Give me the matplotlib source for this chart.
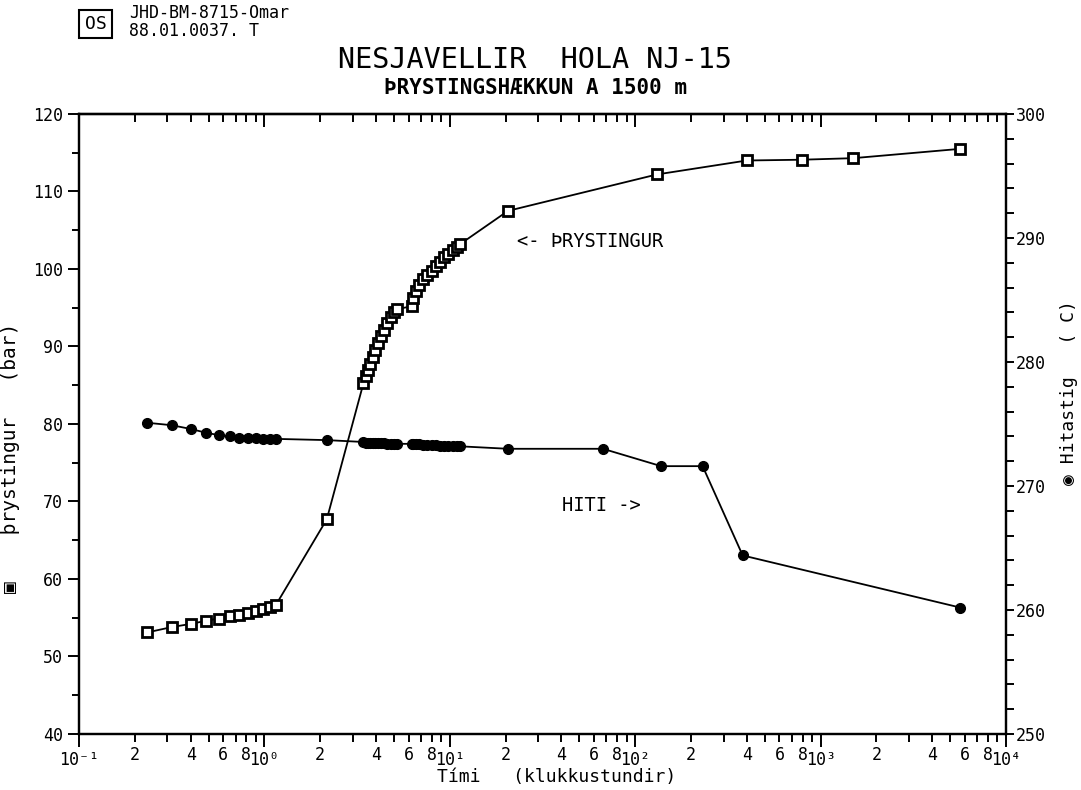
import numpy as np
import matplotlib.pyplot as plt
from matplotlib.ticker import LogLocator, FuncFormatter, MultipleLocator, NullFormatter
from matplotlib.patches import Rectangle

plt.rcParams['font.family'] = ['DejaVu Sans Mono', 'DejaVu Sans']

# NJ-15, pressure and temperature at 1500 m after shut-in
# first 40 readings taken together, later ones logged separately
timi_fyrst = [0.233, 0.317, 0.4, 0.483, 0.567, 0.65, 0.733, 0.817, 0.9, 0.983, 1.067, 1.15,
              2.17,
              3.42, 3.52, 3.61, 3.71, 3.84, 3.95, 4.08, 4.24, 4.42, 4.60, 4.80, 5.00, 5.17,
              6.23, 6.35, 6.57, 6.85, 7.19, 7.56, 7.99, 8.43, 8.85, 9.30, 9.81, 10.36, 10.9, 11.35]
timi_thr_seinna = [20.6, 131.0, 400.0, 790.0, 1500.0, 5650.0]
timi_hiti_seinna = [20.6, 67.0, 138.0, 231.0, 380.0, 5650.0]

thrystingur = [53.1, 53.8, 54.2, 54.6, 54.9, 55.2, 55.35, 55.6, 55.9, 56.15, 56.4, 56.6,
               67.7,
               85.25, 86.2, 87.0, 87.8, 88.7, 89.55, 90.4, 91.3, 92.1, 93.0, 93.8, 94.4, 94.8,
               95.2, 96.2, 97.1, 97.9, 98.7, 99.2, 99.8, 100.4, 100.9, 101.5, 101.9, 102.45, 102.9, 103.2,
               107.5, 112.2, 114.0, 114.1, 114.3, 115.5]

hiti = [275.1, 274.9, 274.6, 274.3, 274.1, 274.0, 273.9, 273.9, 273.9, 273.8, 273.8, 273.8,
        273.7,
        273.55, 273.5, 273.5, 273.5, 273.5, 273.45, 273.45, 273.45, 273.45, 273.4, 273.4, 273.4, 273.4,
        273.4, 273.4, 273.35, 273.35, 273.3, 273.3, 273.3, 273.3, 273.25, 273.25, 273.25, 273.2, 273.2, 273.2,
        273.0, 273.0, 271.6, 271.6, 264.4, 260.2]

timi_thr = timi_fyrst + timi_thr_seinna
timi_hiti = timi_fyrst + timi_hiti_seinna

fig = plt.figure(figsize=(10.81, 7.90), dpi=100)
ax = fig.add_axes([0.0731, 0.0709, 0.8575, 0.7848])
ax2 = ax.twinx()

ax.plot(timi_thr, thrystingur, color='black', lw=1.3, marker='s', ms=6.5,
        mfc='white', mec='black', mew=2.0, zorder=3)
ax2.plot(timi_hiti, hiti, color='black', lw=1.3, marker='o', ms=7,
         mfc='black', mec='black', zorder=3)

ax.set_xscale('log')
ax.set_xlim(0.1, 1e4)
ax.set_ylim(40, 120)
ax2.set_ylim(250, 300)

sup = str.maketrans('-0123456789', '⁻⁰¹²³⁴⁵⁶⁷⁸⁹')


def dec_label(v, pos):
    e = int(round(np.log10(v)))
    return '10' + str(e).translate(sup)


def minor_label(v, pos):
    m = int(round(v / 10 ** np.floor(np.log10(v) + 1e-9)))
    return str(m) if m in (2, 4, 6, 8) else ''


def log_ticks(axis):
    axis.set_major_locator(LogLocator(base=10, numticks=10))
    axis.set_minor_locator(LogLocator(base=10, subs=np.arange(2, 10), numticks=20))


log_ticks(ax.xaxis)
ax.xaxis.set_major_formatter(FuncFormatter(dec_label))
ax.xaxis.set_minor_formatter(FuncFormatter(minor_label))

# top edge carries inward ticks, no labels
top = ax.secondary_xaxis('top')
log_ticks(top.xaxis)
top.xaxis.set_major_formatter(NullFormatter())
top.xaxis.set_minor_formatter(NullFormatter())
top.tick_params(which='both', direction='in', width=1.4)
top.tick_params(which='major', length=9)
top.tick_params(which='minor', length=6)
top.spines['top'].set_linewidth(1.6)

ax.yaxis.set_major_locator(MultipleLocator(10))
ax.yaxis.set_minor_locator(MultipleLocator(5))
ax2.yaxis.set_major_locator(MultipleLocator(10))
ax2.yaxis.set_minor_locator(MultipleLocator(2))

for a in (ax, ax2):
    for s in a.spines.values():
        s.set_linewidth(1.6)

ax.tick_params(axis='x', which='both', direction='out', labelsize=12, width=1.4, pad=3)
ax.tick_params(axis='x', which='major', length=9)
ax.tick_params(axis='x', which='minor', length=6)
ax.tick_params(axis='y', which='both', direction='out', labelsize=12, width=1.4)
ax.tick_params(axis='y', which='major', length=8)
ax.tick_params(axis='y', which='minor', length=5)
ax2.tick_params(axis='y', which='both', direction='out', labelsize=12, width=1.4, pad=1)
ax2.tick_params(axis='y', which='major', length=6)
ax2.tick_params(axis='y', which='minor', length=6)

ax.set_xlabel('Tími   (klukkustundir)', fontsize=13)
ax.xaxis.set_label_coords(0.515, -0.055)
ax.set_ylabel('\u25a3    þrystingur   (bar)', fontsize=14)
ax.yaxis.set_label_coords(-0.064, 0.445)
ax2.set_ylabel('\u25c9 Hitastig   ( C)', fontsize=13)
ax2.yaxis.set_label_coords(1.058, 0.55)

ax.text(23.0, 103.6, '<- ÞRYSTINGUR', fontsize=13.5, va='center', ha='left')
ax.text(40.3, 69.5, 'HITI ->', fontsize=13.5, va='center', ha='left')

fig.text(0.495, 0.924, 'NESJAVELLIR  HOLA NJ-15', fontsize=20.5, ha='center', va='center')
fig.text(0.495, 0.888, 'ÞRYSTINGSHÆKKUN A 1500 m', fontsize=15, ha='center', va='center',
         fontweight='bold')

fig.add_artist(Rectangle((0.073, 0.952), 0.031, 0.035, transform=fig.transFigure,
                         fill=False, lw=1.5, color='black'))
fig.text(0.0885, 0.9695, 'OS', fontsize=13, ha='center', va='center')
fig.text(0.119, 0.983, 'JHD-BM-8715-Omar', fontsize=12, ha='left', va='center')
fig.text(0.119, 0.961, '88.01.0037. T', fontsize=12, ha='left', va='center')

fig.savefig('out.png', dpi=100)
